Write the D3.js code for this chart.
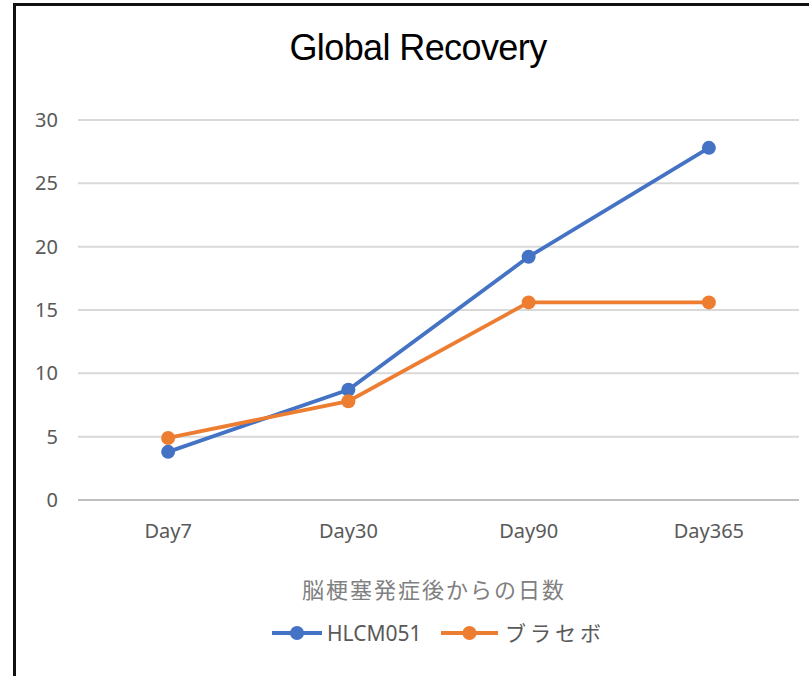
<!DOCTYPE html>
<html><head><meta charset="utf-8">
<script src="https://cdn.jsdelivr.net/npm/d3@7/dist/d3.min.js"></script>
<style>body{margin:0;background:#fff}svg{display:block}</style>
</head><body>
<svg id="c" width="809" height="676"></svg>
<script>
const categories = ["Day7","Day30","Day90","Day365"];
const hlcm051 = [3.8, 8.7, 19.2, 27.8];
const placebo = [4.9, 7.8, 15.6, 15.6];
const yTicks = [0,5,10,15,20,25,30];
const seriesNames = ["HLCM051","ブラセボ"];
const colors = ["#4472C4","#ED7D31"];

const svg = d3.select("#c");
svg.append("path").attr("d","M14.5,676 V4.5 H809").attr("fill","none").attr("stroke","#111").attr("stroke-width",3);

svg.append("text").attr("x",418).attr("y",60).attr("text-anchor","middle")
  .attr("font-family","Liberation Sans, Arial, sans-serif").attr("font-size",36).attr("letter-spacing","-0.6")
  .attr("fill","#000").text("Global Recovery");

const x = d3.scaleBand().domain(categories).range([78,799]);
const y = d3.scaleLinear().domain([0,30]).range([500,120]);

const font = "'Noto Sans', 'Open Sans', sans-serif";
svg.append("g").selectAll("line").data(yTicks).join("line")
  .attr("x1",78).attr("x2",799).attr("y1",d=>y(d)).attr("y2",d=>y(d))
  .attr("stroke",d=>d===0?"#bfbfbf":"#d9d9d9").attr("stroke-width",2);

const yAxis = svg.append("g").attr("transform","translate(58,0)")
  .call(d3.axisLeft(y).tickValues(yTicks).tickSize(0).tickPadding(0));
yAxis.select(".domain").remove();
yAxis.selectAll("text").attr("font-family",font).attr("font-size",20).attr("fill","#595959");

const xAxis = svg.append("g").attr("transform","translate(0,524)")
  .call(d3.axisBottom(x).tickSize(0).tickPadding(0));
xAxis.select(".domain").remove();
xAxis.selectAll("text").attr("font-family",font).attr("font-size",20).attr("fill","#595959");

svg.append("text").attr("x",434).attr("y",598).attr("text-anchor","middle")
  .attr("font-family","'Noto Sans CJK JP', sans-serif").attr("font-size",22).attr("fill","#808080")
  .attr("letter-spacing","2").text("脳梗塞発症後からの日数");

const data = [hlcm051, placebo];
const line = d3.line().x((d,i)=>x(categories[i])+x.bandwidth()/2).y(d=>y(d));
data.forEach((s,k)=>{
  svg.append("path").datum(s).attr("d",line).attr("fill","none").attr("stroke",colors[k]).attr("stroke-width",3.8);
  svg.append("g").selectAll("circle").data(s).join("circle")
    .attr("cx",(d,i)=>x(categories[i])+x.bandwidth()/2).attr("cy",d=>y(d)).attr("r",7).attr("fill",colors[k]);
});

const leg = [{x1:272,x2:322,tx:327},{x1:441,x2:498,tx:505}];
leg.forEach((l,k)=>{
  const g = svg.append("g");
  g.append("line").attr("x1",l.x1).attr("x2",l.x2).attr("y1",633).attr("y2",633).attr("stroke",colors[k]).attr("stroke-width",4);
  g.append("circle").attr("cx",(l.x1+l.x2)/2).attr("cy",633).attr("r",7).attr("fill",colors[k]);
  g.append("text").attr("x",l.tx).attr("y",641)
    .attr("font-family",k===0?font:"'Noto Sans CJK JP', sans-serif").attr("font-size",21).attr("fill","#595959")
    .attr("letter-spacing",k===1?"4":"0").text(seriesNames[k]);
});
</script>
</body></html>
